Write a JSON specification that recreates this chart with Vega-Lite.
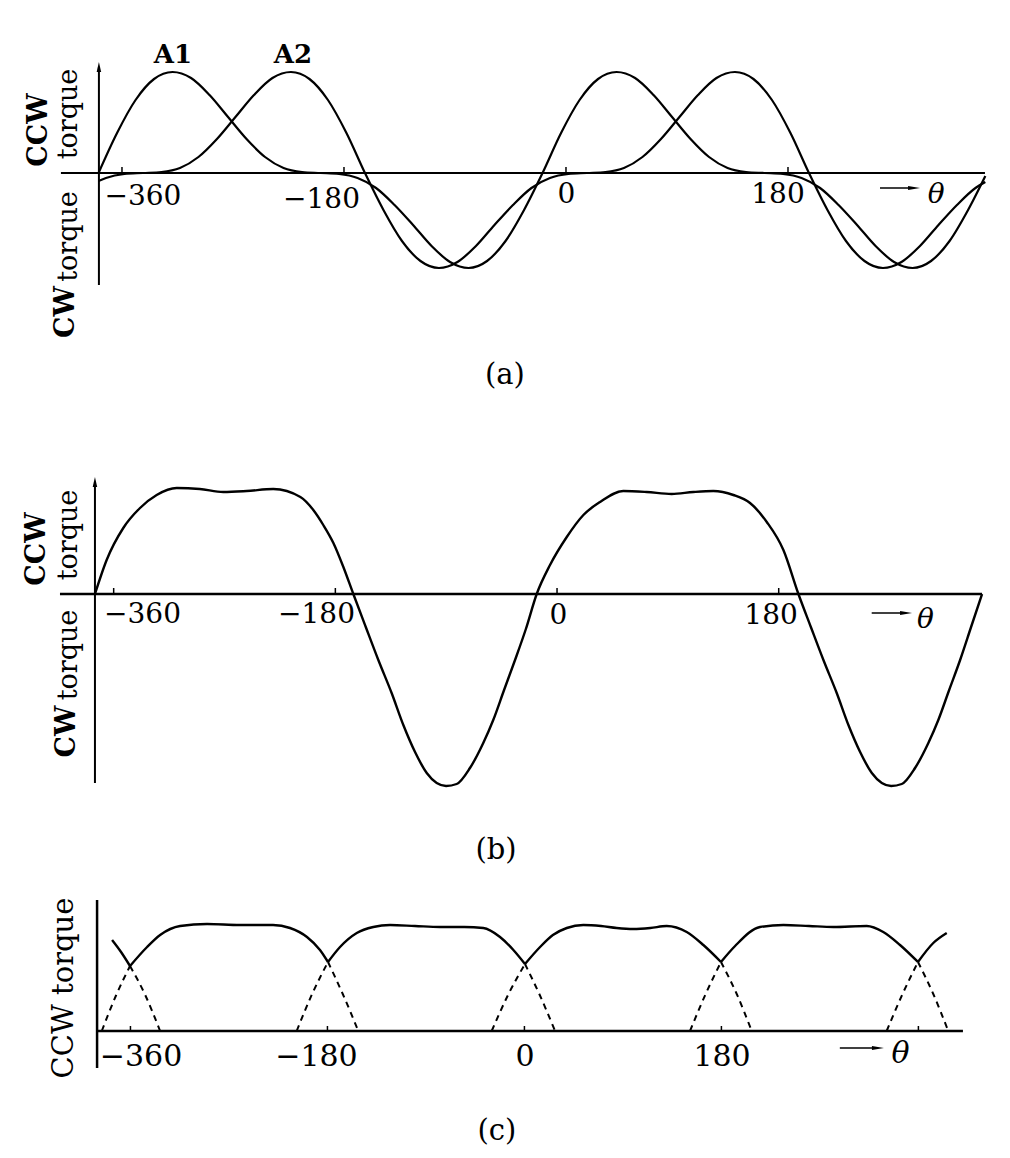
{
  "$schema": "https://vega.github.io/schema/vega-lite/v6.json",
  "padding": 0,
  "background": "white",
  "spacing": 0,
  "bounds": "flush",
  "config": {
    "view": {"stroke": null},
    "axis": {"disable": true},
    "mark": {"color": "black"},
    "text": {"font": "DejaVu Serif", "color": "black"}
  },
  "datasets": {
    "a": [
      {"c":"A1","t":-379,"v":0},{"c":"A1","t":-364,"v":0.40},{"c":"A1","t":-349,"v":0.73},{"c":"A1","t":-334,"v":0.94},{"c":"A1","t":-319,"v":1.01},{"c":"A1","t":-304,"v":0.95},{"c":"A1","t":-289,"v":0.78},{"c":"A1","t":-274,"v":0.56},{"c":"A1","t":-259,"v":0.34},{"c":"A1","t":-244,"v":0.16},{"c":"A1","t":-229,"v":0.05},{"c":"A1","t":-214,"v":0.01},{"c":"A1","t":-199,"v":0},{"c":"A1","t":-184,"v":-0.01},{"c":"A1","t":-169,"v":-0.05},{"c":"A1","t":-154,"v":-0.15},{"c":"A1","t":-139,"v":-0.32},{"c":"A1","t":-124,"v":-0.52},{"c":"A1","t":-109,"v":-0.73},{"c":"A1","t":-94,"v":-0.89},{"c":"A1","t":-79,"v":-0.95},{"c":"A1","t":-64,"v":-0.88},{"c":"A1","t":-49,"v":-0.68},{"c":"A1","t":-34,"v":-0.37},{"c":"A1","t":-19,"v":0},{"c":"A1","t":-4,"v":0.40},{"c":"A1","t":11,"v":0.73},{"c":"A1","t":26,"v":0.94},{"c":"A1","t":41,"v":1.01},{"c":"A1","t":56,"v":0.95},{"c":"A1","t":71,"v":0.78},{"c":"A1","t":86,"v":0.56},{"c":"A1","t":101,"v":0.34},{"c":"A1","t":116,"v":0.16},{"c":"A1","t":131,"v":0.05},{"c":"A1","t":146,"v":0.01},{"c":"A1","t":161,"v":0},{"c":"A1","t":176,"v":-0.01},{"c":"A1","t":191,"v":-0.05},{"c":"A1","t":206,"v":-0.15},{"c":"A1","t":221,"v":-0.32},{"c":"A1","t":236,"v":-0.52},{"c":"A1","t":251,"v":-0.73},{"c":"A1","t":266,"v":-0.89},{"c":"A1","t":281,"v":-0.95},{"c":"A1","t":296,"v":-0.88},{"c":"A1","t":311,"v":-0.68},{"c":"A1","t":326,"v":-0.37},{"c":"A1","t":340,"v":-0.03},
      {"c":"A2","t":-379,"v":-0.08},{"c":"A2","t":-373,"v":-0.05},{"c":"A2","t":-358,"v":-0.01},{"c":"A2","t":-343,"v":0},{"c":"A2","t":-328,"v":0.01},{"c":"A2","t":-313,"v":0.05},{"c":"A2","t":-298,"v":0.16},{"c":"A2","t":-283,"v":0.34},{"c":"A2","t":-268,"v":0.56},{"c":"A2","t":-253,"v":0.78},{"c":"A2","t":-238,"v":0.95},{"c":"A2","t":-223,"v":1.01},{"c":"A2","t":-208,"v":0.94},{"c":"A2","t":-193,"v":0.73},{"c":"A2","t":-178,"v":0.40},{"c":"A2","t":-163,"v":0},{"c":"A2","t":-148,"v":-0.37},{"c":"A2","t":-133,"v":-0.68},{"c":"A2","t":-118,"v":-0.88},{"c":"A2","t":-103,"v":-0.95},{"c":"A2","t":-88,"v":-0.89},{"c":"A2","t":-73,"v":-0.73},{"c":"A2","t":-58,"v":-0.52},{"c":"A2","t":-43,"v":-0.32},{"c":"A2","t":-28,"v":-0.15},{"c":"A2","t":-13,"v":-0.05},{"c":"A2","t":2,"v":-0.01},{"c":"A2","t":17,"v":0},{"c":"A2","t":32,"v":0.01},{"c":"A2","t":47,"v":0.05},{"c":"A2","t":62,"v":0.16},{"c":"A2","t":77,"v":0.34},{"c":"A2","t":92,"v":0.56},{"c":"A2","t":107,"v":0.78},{"c":"A2","t":122,"v":0.95},{"c":"A2","t":137,"v":1.01},{"c":"A2","t":152,"v":0.94},{"c":"A2","t":167,"v":0.73},{"c":"A2","t":182,"v":0.40},{"c":"A2","t":197,"v":0},{"c":"A2","t":212,"v":-0.37},{"c":"A2","t":227,"v":-0.68},{"c":"A2","t":242,"v":-0.88},{"c":"A2","t":257,"v":-0.95},{"c":"A2","t":272,"v":-0.89},{"c":"A2","t":287,"v":-0.73},{"c":"A2","t":302,"v":-0.52},{"c":"A2","t":317,"v":-0.32},{"c":"A2","t":332,"v":-0.15},{"c":"A2","t":340,"v":-0.09}
    ],
    "b": [
      {"t":-375.2,"v":0},{"t":-365.7,"v":0.34},{"t":-352.2,"v":0.66},{"t":-338.6,"v":0.86},{"t":-325.1,"v":0.99},{"t":-308.8,"v":1.06},{"t":-290.1,"v":1.05},{"t":-271.0,"v":1.02},{"t":-252.0,"v":1.03},{"t":-230.4,"v":1.05},{"t":-208.4,"v":0.97},{"t":-197.9,"v":0.84},{"t":-189.8,"v":0.69},{"t":-181.6,"v":0.51},{"t":-173.5,"v":0.27},{"t":-165.4,"v":0},
      {"t":-155.3,"v":-0.33},{"t":-145.1,"v":-0.66},{"t":-134.3,"v":-0.99},{"t":-124.8,"v":-1.31},{"t":-115.3,"v":-1.58},{"t":-105.8,"v":-1.79},{"t":-97.7,"v":-1.89},{"t":-90.1,"v":-1.92},{"t":-81.5,"v":-1.90},{"t":-70.7,"v":-1.74},{"t":-59.9,"v":-1.49},{"t":-51.8,"v":-1.26},{"t":-43.0,"v":-0.96},{"t":-34.1,"v":-0.66},{"t":-25.3,"v":-0.35},{"t":-16.5,"v":0},
      {"t":-5.7,"v":0.29},{"t":7.9,"v":0.57},{"t":21.4,"v":0.79},{"t":34.9,"v":0.92},{"t":53.8,"v":1.03},{"t":72.8,"v":1.02},{"t":93.1,"v":1.00},{"t":110.7,"v":1.02},{"t":126.9,"v":1.03},{"t":143.2,"v":0.99},{"t":156.7,"v":0.91},{"t":170.3,"v":0.72},{"t":183.8,"v":0.44},{"t":196.0,"v":0},
      {"t":206.1,"v":-0.33},{"t":216.3,"v":-0.66},{"t":227.1,"v":-0.99},{"t":236.6,"v":-1.31},{"t":246.1,"v":-1.58},{"t":255.6,"v":-1.79},{"t":263.7,"v":-1.89},{"t":271.3,"v":-1.92},{"t":279.9,"v":-1.90},{"t":290.7,"v":-1.74},{"t":301.5,"v":-1.49},{"t":309.6,"v":-1.26},{"t":318.4,"v":-0.96},{"t":327.3,"v":-0.66},{"t":336.2,"v":-0.33},{"t":345.1,"v":0}
    ],
    "cs": [
      {"s":"s0","t":-376.8,"v":0.91},{"s":"s0","t":-368.6,"v":0.79},{"s":"s0","t":-360.4,"v":0.65},
      {"s":"s1","t":-360.4,"v":0.65},{"s":"s1","t":-344.8,"v":0.84},{"s":"s1","t":-332.9,"v":0.96},{"s":"s1","t":-314.6,"v":1.05},{"s":"s1","t":-290,"v":1.07},{"s":"s1","t":-260,"v":1.06},{"s":"s1","t":-229.7,"v":1.06},{"s":"s1","t":-214.2,"v":1.03},{"s":"s1","t":-198.7,"v":0.94},{"s":"s1","t":-186.8,"v":0.81},{"s":"s1","t":-179.5,"v":0.69},
      {"s":"s2","t":-179.5,"v":0.69},{"s":"s2","t":-168.5,"v":0.84},{"s":"s2","t":-153.2,"v":0.98},{"s":"s2","t":-138.1,"v":1.04},{"s":"s2","t":-122.8,"v":1.06},{"s":"s2","t":-100,"v":1.05},{"s":"s2","t":-77.1,"v":1.04},{"s":"s2","t":-55,"v":1.04},{"s":"s2","t":-37.6,"v":1.03},{"s":"s2","t":-22.3,"v":0.94},{"s":"s2","t":-10.1,"v":0.81},{"s":"s2","t":0.5,"v":0.67},
      {"s":"s3","t":0.5,"v":0.67},{"s":"s3","t":14.3,"v":0.84},{"s":"s3","t":26,"v":0.96},{"s":"s3","t":38.7,"v":1.03},{"s":"s3","t":53.8,"v":1.06},{"s":"s3","t":70,"v":1.05},{"s":"s3","t":84.3,"v":1.03},{"s":"s3","t":99.5,"v":1.02},{"s":"s3","t":115,"v":1.03},{"s":"s3","t":130,"v":1.05},{"s":"s3","t":148.3,"v":0.99},{"s":"s3","t":163.5,"v":0.86},{"s":"s3","t":179.6,"v":0.69},
      {"s":"s4","t":179.6,"v":0.69},{"s":"s4","t":192.5,"v":0.85},{"s":"s4","t":215.3,"v":1.04},{"s":"s4","t":236.6,"v":1.06},{"s":"s4","t":260,"v":1.05},{"s":"s4","t":282.3,"v":1.04},{"s":"s4","t":312.8,"v":1.05},{"s":"s4","t":327.9,"v":0.99},{"s":"s4","t":343.2,"v":0.86},{"s":"s4","t":359.6,"v":0.69},
      {"s":"s5","t":359.6,"v":0.69},{"s":"s5","t":373.6,"v":0.88},{"s":"s5","t":385.9,"v":0.98}
    ],
    "cd": [
      {"s":"d0a","t":-386.2,"v":0},{"s":"d0a","t":-373,"v":0.36},{"s":"d0a","t":-360.4,"v":0.65},
      {"s":"d0b","t":-360.4,"v":0.65},{"s":"d0b","t":-346.5,"v":0.36},{"s":"d0b","t":-332.9,"v":0},
      {"s":"d1a","t":-208.1,"v":0},{"s":"d1a","t":-194,"v":0.37},{"s":"d1a","t":-179.5,"v":0.69},
      {"s":"d1b","t":-179.5,"v":0.69},{"s":"d1b","t":-166,"v":0.37},{"s":"d1b","t":-151.8,"v":0},
      {"s":"d2a","t":-29.9,"v":0},{"s":"d2a","t":-15,"v":0.36},{"s":"d2a","t":0.5,"v":0.67},
      {"s":"d2b","t":0.5,"v":0.67},{"s":"d2b","t":14,"v":0.36},{"s":"d2b","t":28,"v":0},
      {"s":"d3a","t":151.3,"v":0},{"s":"d3a","t":165.6,"v":0.37},{"s":"d3a","t":179.6,"v":0.69},
      {"s":"d3b","t":179.6,"v":0.69},{"s":"d3b","t":194,"v":0.37},{"s":"d3b","t":207.7,"v":0},
      {"s":"d4a","t":331,"v":0},{"s":"d4a","t":345.5,"v":0.37},{"s":"d4a","t":359.6,"v":0.69},
      {"s":"d4b","t":359.6,"v":0.69},{"s":"d4b","t":373.6,"v":0.37},{"s":"d4b","t":387.3,"v":0}
    ],
    "ticks4": [{"t":-360},{"t":-180},{"t":0},{"t":180}],
    "ticks5": [{"t":-360},{"t":-180},{"t":0},{"t":180},{"t":360}]
  },
  "vconcat": [
    {
      "width": 1010,
      "height": 440,
      "data": {"values": [{}]},
      "layer": [
        {"data": {"name": "a"}, "mark": {"type": "line", "interpolate": "monotone", "strokeWidth": 2.2},
         "encoding": {
           "x": {"field": "t", "type": "quantitative", "scale": {"domain": [-458.9, 360.0], "nice": false, "zero": false}, "axis": null},
           "y": {"field": "v", "type": "quantitative", "scale": {"domain": [-2.67, 1.73], "nice": false, "zero": false}, "axis": null},
           "detail": {"field": "c"}}},
        {"mark": {"type": "rule", "strokeWidth": 1.8}, "encoding": {"x": {"datum": -409.5}, "x2": {"datum": 339.7}, "y": {"datum": 0}}},
        {"mark": {"type": "rule", "strokeWidth": 2}, "encoding": {"x": {"datum": -378.7}, "y": {"datum": -1.12}, "y2": {"datum": 1.06}}},
        {"mark": {"type": "point", "shape": "M0,-1L0.45,1L-0.45,1Z", "size": 100, "filled": true, "opacity": 1}, "encoding": {"x": {"datum": -378.7}, "y": {"datum": 1.06}}},
        {"data": {"name": "ticks4"}, "mark": {"type": "rule", "strokeWidth": 1.5}, "encoding": {"x": {"field": "t", "type": "quantitative"}, "y": {"datum": 0}, "y2": {"datum": 0.06}}},
        {"mark": {"type": "text", "text": "A1", "fontWeight": "bold", "fontSize": 26, "align": "center", "baseline": "alphabetic"}, "encoding": {"x": {"datum": -318.7}, "y": {"datum": 1.10}}},
        {"mark": {"type": "text", "text": "A2", "fontWeight": "bold", "fontSize": 26, "align": "center", "baseline": "alphabetic"}, "encoding": {"x": {"datum": -221.4}, "y": {"datum": 1.10}}},
        {"mark": {"type": "text", "text": "CCW", "fontWeight": "bold", "fontSize": 27, "angle": 270, "align": "center", "baseline": "alphabetic"}, "encoding": {"x": {"datum": -420.8}, "y": {"datum": 0.43}}},
        {"mark": {"type": "text", "text": "torque", "fontSize": 27, "angle": 270, "align": "center", "baseline": "alphabetic"}, "encoding": {"x": {"datum": -396.5}, "y": {"datum": 0.59}}},
        {"mark": {"type": "text", "text": "torque", "fontSize": 27, "angle": 270, "align": "center", "baseline": "alphabetic"}, "encoding": {"x": {"datum": -396.5}, "y": {"datum": -0.635}}},
        {"mark": {"type": "text", "text": "CW", "fontWeight": "bold", "fontSize": 27, "angle": 270, "align": "center", "baseline": "alphabetic"}, "encoding": {"x": {"datum": -398.5}, "y": {"datum": -1.39}}},
        {"mark": {"type": "text", "text": "−360", "fontSize": 28, "align": "center", "baseline": "alphabetic"}, "encoding": {"x": {"datum": -343}, "y": {"datum": -0.32}}},
        {"mark": {"type": "text", "text": "−180", "fontSize": 28, "align": "center", "baseline": "alphabetic"}, "encoding": {"x": {"datum": -198.2}, "y": {"datum": -0.35}}},
        {"mark": {"type": "text", "text": "0", "fontSize": 28, "align": "center", "baseline": "alphabetic"}, "encoding": {"x": {"datum": 0.4}, "y": {"datum": -0.30}}},
        {"mark": {"type": "text", "text": "180", "fontSize": 28, "align": "center", "baseline": "alphabetic"}, "encoding": {"x": {"datum": 171.9}, "y": {"datum": -0.30}}},
        {"mark": {"type": "rule", "strokeWidth": 1.5}, "encoding": {"x": {"datum": 254.6}, "x2": {"datum": 282.2}, "y": {"datum": -0.15}}},
        {"mark": {"type": "point", "shape": "M-1,-0.35L1,0L-1,0.35Z", "size": 144, "filled": true, "opacity": 1}, "encoding": {"x": {"datum": 282.2}, "y": {"datum": -0.15}}},
        {"mark": {"type": "text", "text": "θ", "fontStyle": "italic", "fontSize": 28, "align": "center", "baseline": "alphabetic"}, "encoding": {"x": {"datum": 300.2}, "y": {"datum": -0.30}}},
        {"mark": {"type": "text", "text": "(a)", "fontSize": 29, "align": "center", "baseline": "middle"}, "encoding": {"x": {"datum": -49.5}, "y": {"datum": -2.02}}}
      ]
    },
    {
      "width": 1010,
      "height": 440,
      "data": {"values": [{}]},
      "layer": [
        {"data": {"name": "b"}, "mark": {"type": "line", "interpolate": "monotone", "strokeWidth": 2.4},
         "encoding": {
           "x": {"field": "t", "type": "quantitative", "scale": {"domain": [-452.3, 367.8], "nice": false, "zero": false}, "axis": null},
           "y": {"field": "v", "type": "quantitative", "scale": {"domain": [-2.86, 1.54], "nice": false, "zero": false}, "axis": null}}},
        {"mark": {"type": "rule", "strokeWidth": 2.4}, "encoding": {"x": {"datum": -403.6}, "x2": {"datum": 345.1}, "y": {"datum": 0}}},
        {"mark": {"type": "rule", "strokeWidth": 2}, "encoding": {"x": {"datum": -375.2}, "y": {"datum": -1.89}, "y2": {"datum": 1.12}}},
        {"mark": {"type": "point", "shape": "M0,-1L0.45,1L-0.45,1Z", "size": 100, "filled": true, "opacity": 1}, "encoding": {"x": {"datum": -375.2}, "y": {"datum": 1.12}}},
        {"data": {"name": "ticks4"}, "mark": {"type": "rule", "strokeWidth": 1.5}, "encoding": {"x": {"field": "t", "type": "quantitative"}, "y": {"datum": 0}, "y2": {"datum": 0.06}}},
        {"mark": {"type": "text", "text": "CCW", "fontWeight": "bold", "fontSize": 27, "angle": 270, "align": "center", "baseline": "alphabetic"}, "encoding": {"x": {"datum": -415.8}, "y": {"datum": 0.45}}},
        {"mark": {"type": "text", "text": "torque", "fontSize": 27, "angle": 270, "align": "center", "baseline": "alphabetic"}, "encoding": {"x": {"datum": -390}, "y": {"datum": 0.59}}},
        {"mark": {"type": "text", "text": "torque", "fontSize": 27, "angle": 270, "align": "center", "baseline": "alphabetic"}, "encoding": {"x": {"datum": -390}, "y": {"datum": -0.61}}},
        {"mark": {"type": "text", "text": "CW", "fontWeight": "bold", "fontSize": 27, "angle": 270, "align": "center", "baseline": "alphabetic"}, "encoding": {"x": {"datum": -391.6}, "y": {"datum": -1.375}}},
        {"mark": {"type": "text", "text": "−360", "fontSize": 28, "align": "center", "baseline": "alphabetic"}, "encoding": {"x": {"datum": -336.6}, "y": {"datum": -0.29}}},
        {"mark": {"type": "text", "text": "−180", "fontSize": 28, "align": "center", "baseline": "alphabetic"}, "encoding": {"x": {"datum": -195.3}, "y": {"datum": -0.29}}},
        {"mark": {"type": "text", "text": "0", "fontSize": 28, "align": "center", "baseline": "alphabetic"}, "encoding": {"x": {"datum": 1.2}, "y": {"datum": -0.30}}},
        {"mark": {"type": "text", "text": "180", "fontSize": 28, "align": "center", "baseline": "alphabetic"}, "encoding": {"x": {"datum": 173.8}, "y": {"datum": -0.30}}},
        {"mark": {"type": "rule", "strokeWidth": 1.5}, "encoding": {"x": {"datum": 255.5}, "x2": {"datum": 283.4}, "y": {"datum": -0.19}}},
        {"mark": {"type": "point", "shape": "M-1,-0.35L1,0L-1,0.35Z", "size": 144, "filled": true, "opacity": 1}, "encoding": {"x": {"datum": 283.4}, "y": {"datum": -0.19}}},
        {"mark": {"type": "text", "text": "θ", "fontStyle": "italic", "fontSize": 28, "align": "center", "baseline": "alphabetic"}, "encoding": {"x": {"datum": 299.2}, "y": {"datum": -0.34}}},
        {"mark": {"type": "text", "text": "(b)", "fontSize": 29, "align": "center", "baseline": "middle"}, "encoding": {"x": {"datum": -49.5}, "y": {"datum": -2.56}}}
      ]
    },
    {
      "width": 1010,
      "height": 278,
      "data": {"values": [{}]},
      "layer": [
        {"data": {"name": "cs"}, "mark": {"type": "line", "interpolate": "monotone", "strokeWidth": 2.4},
         "encoding": {
           "x": {"field": "t", "type": "quantitative", "scale": {"domain": [-479.2, 443.7], "nice": false, "zero": false}, "axis": null},
           "y": {"field": "v", "type": "quantitative", "scale": {"domain": [-1.27, 1.51], "nice": false, "zero": false}, "axis": null},
           "detail": {"field": "s"}}},
        {"data": {"name": "cd"}, "mark": {"type": "line", "interpolate": "monotone", "strokeWidth": 2, "strokeDash": [6, 5]},
         "encoding": {"x": {"field": "t", "type": "quantitative"}, "y": {"field": "v", "type": "quantitative"}, "detail": {"field": "s"}}},
        {"mark": {"type": "rule", "strokeWidth": 2.5}, "encoding": {"x": {"datum": -390.5}, "x2": {"datum": 400.7}, "y": {"datum": 0}}},
        {"mark": {"type": "rule", "strokeWidth": 2.5}, "encoding": {"x": {"datum": -390.5}, "y": {"datum": -0.37}, "y2": {"datum": 1.31}}},
        {"data": {"name": "ticks5"}, "mark": {"type": "rule", "strokeWidth": 1.5}, "encoding": {"x": {"field": "t", "type": "quantitative"}, "y": {"datum": 0}, "y2": {"datum": 0.05}}},
        {"mark": {"type": "text", "text": "CCW torque", "fontSize": 29, "angle": 270, "align": "center", "baseline": "alphabetic"}, "encoding": {"x": {"datum": -412.5}, "y": {"datum": 0.43}}},
        {"mark": {"type": "text", "text": "−360", "fontSize": 30, "align": "center", "baseline": "alphabetic"}, "encoding": {"x": {"datum": -350.3}, "y": {"datum": -0.35}}},
        {"mark": {"type": "text", "text": "−180", "fontSize": 30, "align": "center", "baseline": "alphabetic"}, "encoding": {"x": {"datum": -190}, "y": {"datum": -0.35}}},
        {"mark": {"type": "text", "text": "0", "fontSize": 30, "align": "center", "baseline": "alphabetic"}, "encoding": {"x": {"datum": 0.5}, "y": {"datum": -0.35}}},
        {"mark": {"type": "text", "text": "180", "fontSize": 30, "align": "center", "baseline": "alphabetic"}, "encoding": {"x": {"datum": 180.6}, "y": {"datum": -0.35}}},
        {"mark": {"type": "rule", "strokeWidth": 1.5}, "encoding": {"x": {"datum": 288.2}, "x2": {"datum": 323}, "y": {"datum": -0.17}}},
        {"mark": {"type": "point", "shape": "M-1,-0.35L1,0L-1,0.35Z", "size": 144, "filled": true, "opacity": 1}, "encoding": {"x": {"datum": 323}, "y": {"datum": -0.17}}},
        {"mark": {"type": "text", "text": "θ", "fontStyle": "italic", "fontSize": 30, "align": "center", "baseline": "alphabetic"}, "encoding": {"x": {"datum": 343.7}, "y": {"datum": -0.32}}},
        {"mark": {"type": "text", "text": "(c)", "fontSize": 29, "align": "center", "baseline": "middle"}, "encoding": {"x": {"datum": -25.1}, "y": {"datum": -1.0}}}
      ]
    }
  ]
}
